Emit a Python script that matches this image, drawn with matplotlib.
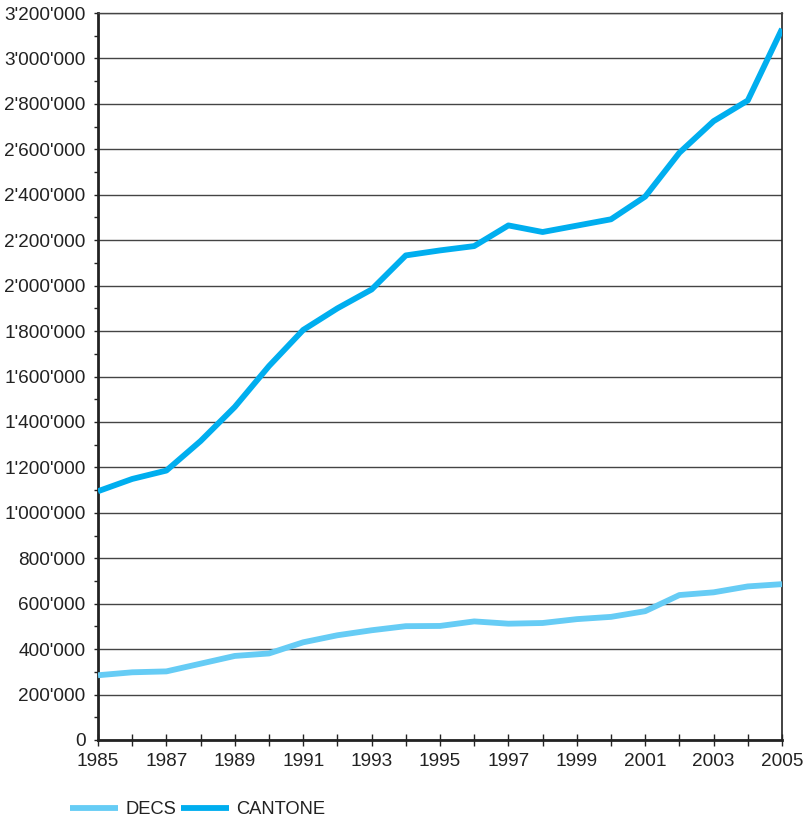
import matplotlib
matplotlib.use("Agg")
import matplotlib.pyplot as plt
from matplotlib.ticker import FuncFormatter, MultipleLocator

years = list(range(1985, 2006))
decs = [285000, 298000, 302000, 336000, 370000, 381000, 430000, 461000, 483000, 501000,
        502000, 522000, 512000, 515000, 532000, 542000, 567000, 638000, 650000, 676000, 686000]
cantone = [1095000, 1149000, 1186000, 1316000, 1466000, 1646000, 1805000, 1900000, 1983000, 2133000,
           2155000, 2174000, 2265000, 2236000, 2264000, 2292000, 2392000, 2585000, 2724000, 2815000, 3130000]
xtick_years = list(range(1985, 2006, 2))

plt.rcParams['font.family'] = ['Liberation Sans', 'DejaVu Sans']

fig = plt.figure(figsize=(8.05, 8.19), dpi=100)
ax = fig.add_axes([98/805, 79/819, 684/805, 727/819])

ax.plot(years, decs, color='#66CCF5', lw=4.2, solid_capstyle='butt', label='DECS', zorder=3)
ax.plot(years, cantone, color='#00AEEF', lw=4.2, solid_capstyle='butt', label='CANTONE', zorder=3)

ax.set_xlim(1985, 2005)
ax.set_ylim(0, 3200000)
ax.yaxis.set_major_locator(MultipleLocator(200000))
ax.yaxis.set_minor_locator(MultipleLocator(100000))
ax.set_xticks(xtick_years)
ax.xaxis.set_minor_locator(MultipleLocator(1))

def fmt(v, pos):
    s = f"{int(round(v)):,}".replace(",", "'")
    return s
ax.yaxis.set_major_formatter(FuncFormatter(fmt))

ax.grid(axis='y', which='major', color='#444444', lw=1.0, zorder=1)
for s in ax.spines.values():
    s.set_color('#222222')
    s.set_linewidth(1.2)
ax.spines['left'].set_linewidth(2)
ax.spines['bottom'].set_linewidth(2)
ax.spines['top'].set_color('#444444')
ax.spines['top'].set_linewidth(1.0)

ax.tick_params(axis='y', which='both', direction='out', length=3, width=1, color='#222222',
               labelsize=13.7, pad=6, labelcolor='#222222')
ax.tick_params(axis='x', which='both', direction='inout', length=9, width=1, color='#222222',
               labelsize=13.7, pad=5, labelcolor='#222222')
ax.set_axisbelow(True)

fig.legend(loc='center left', bbox_to_anchor=(70/805, 1 - 810/819), ncol=2, frameon=False,
           fontsize=13.2, handlelength=2.6, handletextpad=0.4, columnspacing=0.3,
           borderaxespad=0, borderpad=0, labelcolor='#222222')

fig.savefig('out.png', dpi=100)
